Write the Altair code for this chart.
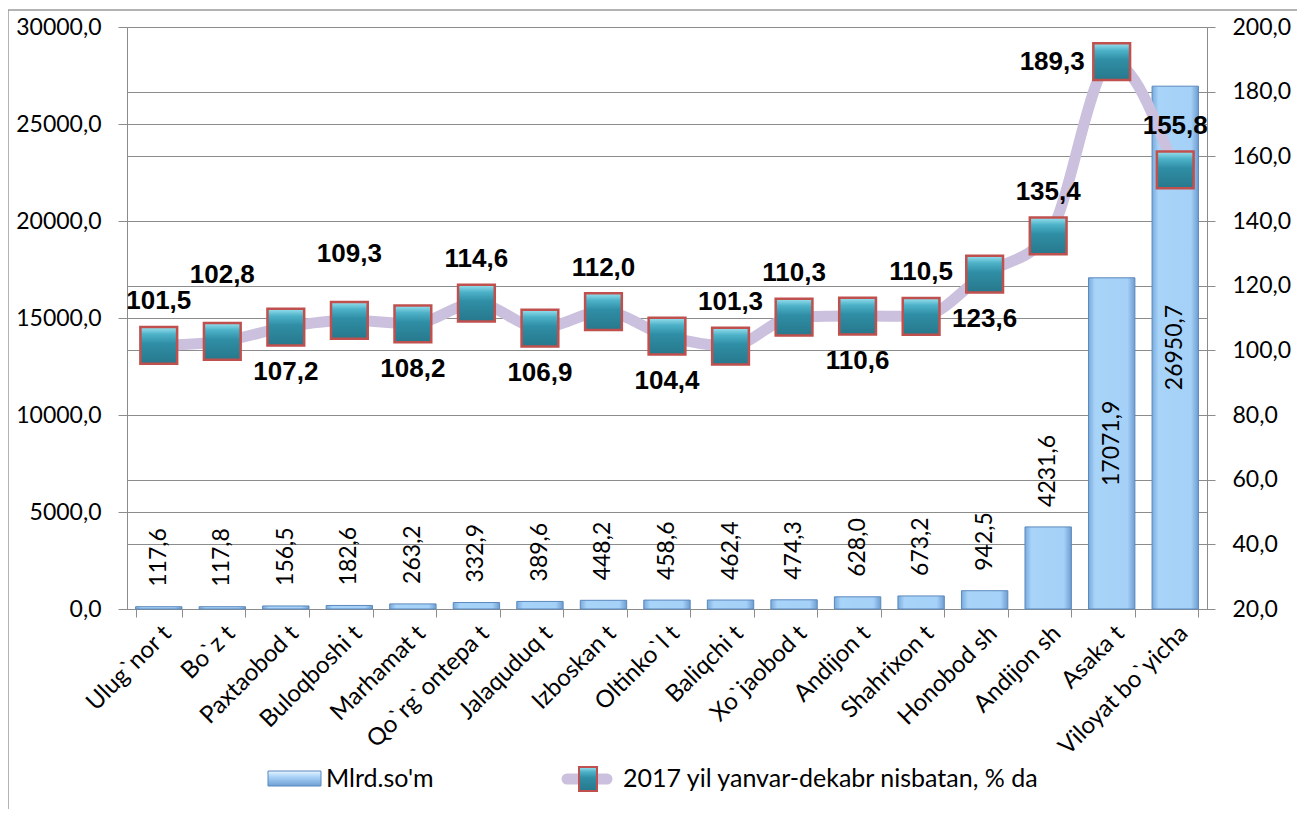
import altair as alt
import pandas as pd

categories = ["Ulug`nor t", "Bo`z t", "Paxtaobod t", "Buloqboshi t", "Marhamat t",
              "Qo`rg`ontepa t", "Jalaquduq t", "Izboskan t", "Oltinko`l t", "Baliqchi t",
              "Xo`jaobod t", "Andijon t", "Shahrixon t", "Honobod sh", "Andijon sh",
              "Asaka t", "Viloyat bo`yicha"]
mlrd_som = [117.6, 117.8, 156.5, 182.6, 263.2, 332.9, 389.6, 448.2, 458.6, 462.4,
            474.3, 628.0, 673.2, 942.5, 4231.6, 17071.9, 26950.7]
pct_2017 = [101.5, 102.8, 107.2, 109.3, 108.2, 114.6, 106.9, 112.0, 104.4, 101.3,
            110.3, 110.6, 110.5, 123.6, 135.4, 189.3, 155.8]
label_side = ["above", "high", "below", "high", "below", "above", "below", "above", "below",
              "above", "above", "below", "above", "below", "above", "left", "above"]
left_ticks = [0, 5000, 10000, 15000, 20000, 25000, 30000]
right_ticks = [20, 40, 60, 80, 100, 120, 140, 160, 180, 200]
series_names = ["Mlrd.so'm", "2017 yil yanvar-dekabr nisbatan, % da"]

df = pd.DataFrame({"cat": categories, "mlrd": mlrd_som, "pct": pct_2017, "side": label_side})
one = pd.DataFrame({"k": [0]})

W, H = 1080, 582
FONT = "Lato"
GRID = "#8c8c8c"
COMMA = "replace(format(datum.value, '.1f'), '.', ',')"

x_main = alt.X("cat:N", sort=categories,
               scale=alt.Scale(paddingInner=0.27, paddingOuter=0.135),
               axis=alt.Axis(title=None, labelAngle=315, labelAlign="right", labelBaseline="top",
                             labelFont=FONT, labelFontSize=24, labelColor="#000", labelPadding=4,
                             labelLimit=400, tickBand="extent", tickSize=8, tickColor=GRID,
                             domainColor=GRID, grid=False, labelOverlap=False))
x_s = alt.X("cat:N", sort=categories)


def y_left(field):
    return alt.Y(f"{field}:Q", scale=alt.Scale(domain=[0, 30000], nice=False, zero=True),
                 axis=alt.Axis(orient="left", title=None, values=left_ticks, labelExpr=COMMA,
                               labelFont=FONT, labelFontSize=23, labelColor="#000",
                               labelPadding=17, tickSize=9, tickColor=GRID, domainColor=GRID,
                               grid=True, gridColor=GRID, gridWidth=1.2))


def y_right(field):
    return alt.Y(f"{field}:Q", scale=alt.Scale(domain=[20, 200], nice=False, zero=False),
                 axis=alt.Axis(orient="right", title=None, values=right_ticks, labelExpr=COMMA,
                               labelFont=FONT, labelFontSize=23, labelColor="#000",
                               labelPadding=17, tickSize=8, tickColor=GRID, domainColor=GRID,
                               grid=True, gridColor=GRID, gridWidth=1.2))


bar_grad = alt.Gradient(gradient="linear", x1=0, x2=1, y1=0, y2=0, stops=[
    alt.GradientStop(color="#78aadb", offset=0),
    alt.GradientStop(color="#a9d4f9", offset=0.14),
    alt.GradientStop(color="#a5d0f7", offset=0.84),
    alt.GradientStop(color="#6d9dd1", offset=1)])
marker_grad = alt.Gradient(gradient="linear", x1=0, x2=0, y1=0, y2=1, stops=[
    alt.GradientStop(color="#9be2f0", offset=0),
    alt.GradientStop(color="#4db2c8", offset=0.2),
    alt.GradientStop(color="#2f8ea5", offset=0.45),
    alt.GradientStop(color="#27788c", offset=1)])

# outer frame
frame = alt.Chart(one).mark_rect(fillOpacity=0, stroke="#9a9a9a", strokeWidth=1.5).encode(
    x=alt.value(-119), x2=alt.value(1173), y=alt.value(-17), y2=alt.value(800))

bars = alt.Chart(df).mark_bar(fill=bar_grad, stroke="#5b88bd", strokeWidth=1).encode(
    x=x_main, y=y_left("mlrd"))

txt_calc = "replace(format(datum.mlrd, '.1f'), '.', ',')"
bar_lab_small = alt.Chart(df).transform_filter("datum.mlrd < 10000").transform_calculate(
    txt=txt_calc).mark_text(angle=270, align="left", baseline="middle", dx=20,
                            font=FONT, fontSize=23, color="#000").encode(
    x=x_s, y=y_left("mlrd"), text="txt:N")
bar_lab_big = alt.Chart(df).transform_filter("datum.mlrd >= 10000").transform_calculate(
    txt=txt_calc, mid="datum.mlrd / 2").mark_text(angle=270, align="center", baseline="middle",
                                                  font=FONT, fontSize=23, color="#000").encode(
    x=x_s, y=y_left("mid"), text="txt:N")

# manual legend
leg_bar = alt.Chart(one).mark_rect(fill=alt.Gradient(gradient="linear", x1=0, x2=0, y1=0, y2=1, stops=[
    alt.GradientStop(color="#e6f4ff", offset=0), alt.GradientStop(color="#a8d2f7", offset=0.4),
    alt.GradientStop(color="#6f9fd3", offset=1)]), stroke="#5b88bd", strokeWidth=1).encode(
    x=alt.value(141), x2=alt.value(194), y=alt.value(744), y2=alt.value(759))
leg_bar_txt = alt.Chart(one).transform_calculate(t=f'"{series_names[0]}"').mark_text(
    align="left", baseline="middle", font=FONT, fontSize=25, color="#000").encode(
    x=alt.value(199), y=alt.value(752), text="t:N")
leg_line = alt.Chart(one).mark_rule(color="#cbc0dd", strokeWidth=11, strokeCap="round").encode(
    x=alt.value(440), x2=alt.value(480), y=alt.value(752))
leg_mark = alt.Chart(one).mark_rect(fill=marker_grad, stroke="#c0504d", strokeWidth=2).encode(
    x=alt.value(452), x2=alt.value(470), y=alt.value(740), y2=alt.value(764))
leg_line_txt = alt.Chart(one).transform_calculate(t=f'"{series_names[1]}"').mark_text(
    align="left", baseline="middle", font=FONT, fontSize=25, color="#000").encode(
    x=alt.value(496), y=alt.value(752), text="t:N")

left = alt.layer(frame, bars, bar_lab_small, bar_lab_big, leg_bar, leg_bar_txt,
                 leg_line, leg_mark, leg_line_txt)

line = alt.Chart(df).mark_line(color="#cbc0dd", strokeWidth=11, interpolate="monotone").encode(
    x=x_s, y=y_right("pct"))
markers = alt.Chart(df).mark_point(shape="square", filled=True, size=1350, fill=marker_grad,
                                   stroke="#c0504d", strokeWidth=2.5, opacity=1).encode(
    x=x_s, y=y_right("pct"))

pct_txt = "replace(format(datum.pct, '.1f'), '.', ',')"


def pct_labels(side, **kw):
    return alt.Chart(df).transform_filter(f"datum.side == '{side}'").transform_calculate(
        txt=pct_txt).mark_text(font="Liberation Sans", fontWeight="bold", fontSize=26,
                               color="#000", baseline="middle", **kw).encode(
        x=x_s, y=y_right("pct"), text="txt:N")


lab_above = pct_labels("above", align="center", dy=-44)
lab_high = pct_labels("high", align="center", dy=-66)
lab_below = pct_labels("below", align="center", dy=45)
lab_left = pct_labels("left", align="right", dx=-27)

right = alt.layer(line, markers, lab_above, lab_high, lab_below, lab_left)

chart = alt.layer(left, right).resolve_scale(y="independent").properties(
    width=W, height=H,
    autosize=alt.AutoSizeParams(type="none"),
    padding={"left": 119, "top": 19, "right": 90, "bottom": 200},
    background="white",
).configure_view(stroke=None)

chart.save("out.html", embed_options={"renderer": "svg", "actions": False})
